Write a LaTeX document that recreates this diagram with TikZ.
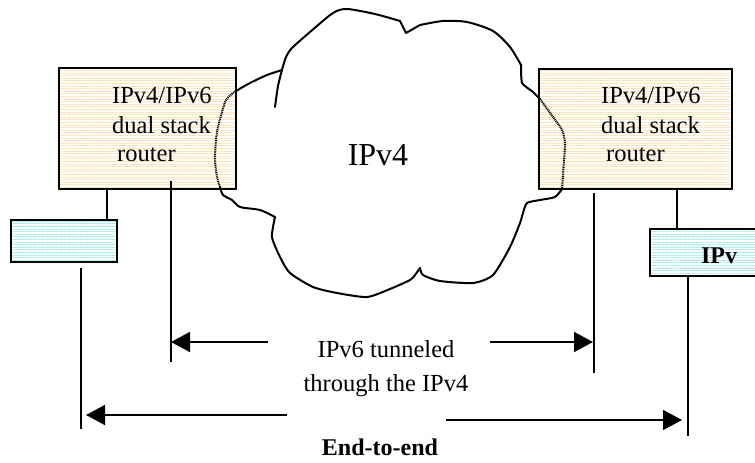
\documentclass[tikz,border=0pt]{standalone}
\usepackage{fontspec}
\setmainfont{Liberation Serif}
\usetikzlibrary{arrows.meta,patterns.meta}
\definecolor{stripeO}{RGB}{250,228,188}
\definecolor{stripeC}{RGB}{178,236,236}
\begin{document}
\begin{tikzpicture}[x=1pt,y=-1pt,
  boxbase/.style={draw=black,line width=1.3pt,inner sep=0pt},
  routerbox/.style={boxbase,pattern={Lines[angle=0,distance=2.6pt,line width=0.9pt]},pattern color=stripeO},
  hostbox/.style={boxbase,pattern={Lines[angle=0,distance=2.6pt,line width=0.9pt]},pattern color=stripeC},
  txt/.style={inner sep=0pt,font=\fontsize{24.5}{29}\selectfont},
  conn/.style={line width=1.3pt},
  arr/.style={line width=1.5pt,-{Triangle[length=19pt,width=20pt]}},
  cloudline/.style={line width=2pt,line join=round,line cap=round},
  clouddash/.style={line width=2pt,dash pattern=on 1pt off 0.8pt}
]
\useasboundingbox (0,0) rectangle (755,463);
% boxes
\node[routerbox,minimum width=177pt,minimum height=121pt] (rL) at (147.5,128.5) {};
\node[routerbox,minimum width=193pt,minimum height=120pt] (rR) at (635.5,129) {};
\node[hostbox,minimum width=106pt,minimum height=42pt] (hL) at (64,241) {};
\node[hostbox,minimum width=107pt,minimum height=47pt] (hR) at (703.5,252.5) {};
% cloud
\draw[cloudline] plot[smooth,tension=0.45] coordinates {(236,91) (250,83) (267,75) (282,70)};
\draw[cloudline] plot[smooth,tension=0.5] coordinates {(282,70) (278,86) (275,107)};
\draw[cloudline] plot[smooth,tension=0.45] coordinates {(282,70) (286,57) (292,48) (310,32) (333,13) (347,9) (375,14) (400,21)};
\draw[cloudline] (400,21) -- (406,33) -- (420,25);
\draw[cloudline] plot[smooth,tension=0.45] coordinates {(420,25) (443,21) (467,22) (493,31) (510,47) (521,65)};
\draw[cloudline] plot[smooth,tension=0.3] coordinates {(521,65) (522,83) (533,92) (540,99)};
\draw[clouddash] plot[smooth,tension=0.5] coordinates {(540,99) (553,117) (562,130) (565,143) (564,160) (563,175) (562,189)};
\draw[cloudline] plot[smooth,tension=0.4] coordinates {(562,189) (555,197) (540,200) (527,203) (523,213) (520,223) (510,247) (493,275) (473,283) (440,281) (423,275) (420,268)};
\draw[cloudline] plot[smooth,tension=0.4] coordinates {(420,268) (415,275) (410,280) (390,289) (367,297) (337,293) (313,287) (290,273) (280,257) (272,237) (275,217)};
\draw[cloudline] plot[smooth,tension=0.4] coordinates {(275,217) (260,210) (240,207) (232,200) (223,195) (220,187)};
\draw[clouddash] plot[smooth,tension=0.5] coordinates {(220,187) (217,177) (215,160) (216,140) (218,127) (222,112) (226,100) (233,93) (236,91)};
% texts
\node[txt,anchor=base west] (l1) at (112,103) {IPv4/IPv6};
\node[txt,anchor=base west] (l2) at (112,133) {dual stack};
\node[txt,anchor=base west] (l3) at (117,161) {router};
\node[txt,anchor=base west] (r1) at (601,103) {IPv4/IPv6};
\node[txt,anchor=base west] (r2) at (601,133) {dual stack};
\node[txt,anchor=base west] (r3) at (606,161) {router};
\node[inner sep=0pt,font=\fontsize{32}{38}\selectfont,anchor=base] (cl) at (378,165) {IPv4};
\node[txt,anchor=base,font=\fontsize{24}{29}\selectfont\bfseries] (hRt) at (719,263) {IPv};
\node[txt,anchor=base] (t1) at (386,357) {IPv6 tunneled};
\node[txt,anchor=base] (t2) at (386,391) {through the IPv4};
\node[txt,anchor=base,font=\fontsize{24}{29}\selectfont\bfseries] (e2e) at (380,455) {End-to-end};
% connector coordinates
\coordinate (xa) at (107,0);
\coordinate (xb) at (677,0);
\coordinate (tlA) at (171,181);
\coordinate (tlB) at (171,362);
\coordinate (trA) at (594,193);
\coordinate (trB) at (594,373);
\coordinate (elA) at (81,268);
\coordinate (elB) at (81,429);
\coordinate (erA) at (688,276);
\coordinate (erB) at (688,436);
\coordinate (ta1) at (268,342);
\coordinate (ta2) at (171,342);
\coordinate (tb1) at (490,342);
\coordinate (tb2) at (593,342);
\coordinate (ea1) at (287,415);
\coordinate (ea2) at (86,415);
\coordinate (eb1) at (446,420);
\coordinate (eb2) at (682,420);
% connectors
\draw[conn] (rL.south -| xa) -- (hL.north -| xa);
\draw[conn] (rR.south -| xb) -- (hR.north -| xb);
\draw[conn] (tlA) -- (tlB);
\draw[conn] (trA) -- (trB);
\draw[conn] (elA) -- (elB);
\draw[conn] (erA) -- (erB);
\draw[arr] (ta1) -- (ta2);
\draw[arr] (tb1) -- (tb2);
\draw[arr] (ea1) -- (ea2);
\draw[arr] (eb1) -- (eb2);
\end{tikzpicture}
\end{document}
